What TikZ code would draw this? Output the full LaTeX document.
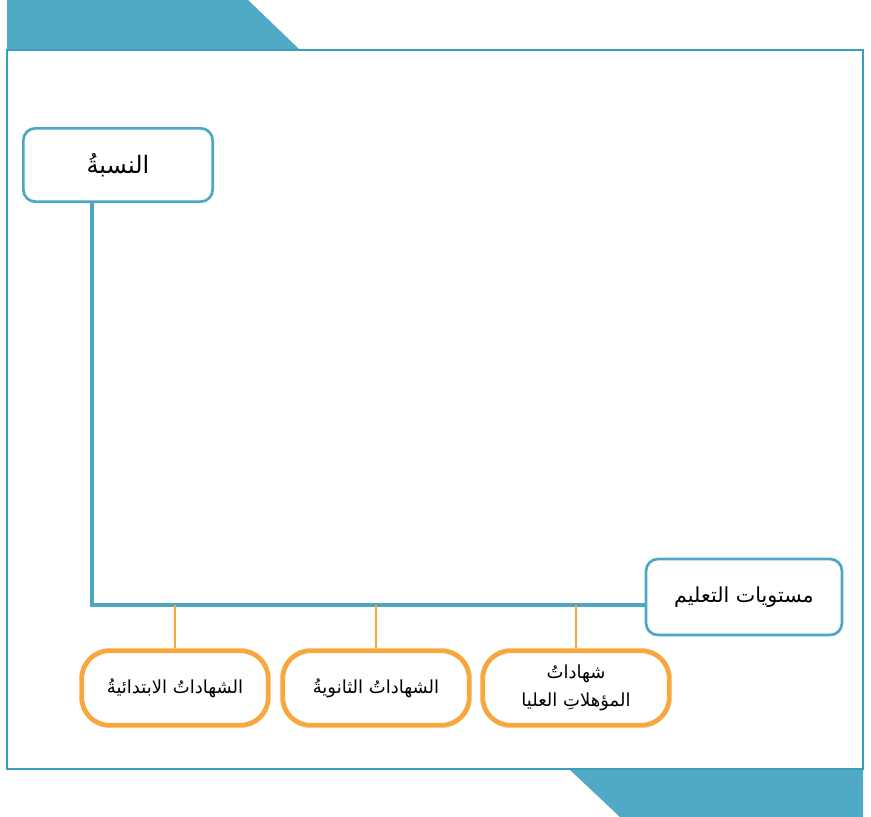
\documentclass[tikz,border=0pt]{standalone}
\usepackage{fontspec}
\newfontfamily\arabicfont[Script=Arabic]{DejaVu Sans}
\TeXXeTstate=1
\definecolor{tabblue}{HTML}{50A9C5}
\definecolor{lineblue}{HTML}{4DA7C4}
\definecolor{framec}{HTML}{3A9EBD}
\definecolor{orangec}{HTML}{F7A73C}
\begin{document}
\begin{tikzpicture}[x=0.75pt,y=-0.75pt,
  bluebox/.style={draw=lineblue, line width=2pt, rounded corners=9pt, fill=white, font=\arabicfont, text=black},
  orangebox/.style={draw=orangec, line width=3.6pt, rounded corners=21pt, fill=white, font=\arabicfont\fontsize{13.5pt}{21pt}\selectfont, text=black, minimum width=140pt, minimum height=56pt, align=center, inner sep=2pt},
  thickline/.style={draw=lineblue, line width=3.6pt},
  thinline/.style={draw=orangec, line width=1.5pt}]
\useasboundingbox (0,0) rectangle (871,817);
% tabs
\fill[tabblue] (7,0) -- (248,0) -- (300,50) -- (7,50) -- cycle;
\fill[tabblue] (569,769) -- (863,769) -- (863,817) -- (620,817) -- cycle;
% frame
\draw[framec, line width=0.9pt] (7,50) rectangle (863,769);
% nodes
\node[bluebox, minimum width=142pt, minimum height=55pt, font=\arabicfont\fontsize{18pt}{22pt}\selectfont] (nisba) at (118,165) {\beginR النسبةُ\endR};
\node[bluebox, minimum width=147pt, minimum height=57pt, font=\arabicfont\fontsize{15.5pt}{19pt}\selectfont] (levels) at (744,597) {\beginR مستويات التعليم\endR};
\node[orangebox] (prim) at (175,688) {\beginR الشهاداتُ الابتدائيةُ\endR};
\node[orangebox] (sec) at (376,688) {\beginR الشهاداتُ الثانويةُ\endR};
\node[orangebox] (high) at (576,688) {\beginR شهاداتُ\endR\\\beginR المؤهلاتِ العليا\endR};
% connectors
\coordinate (corner) at (92,605);
\draw[thickline] (nisba.south -| corner) -- (corner) -- (levels.west |- corner);
\draw[thinline] (prim.north) -- (prim.north |- corner);
\draw[thinline] (sec.north) -- (sec.north |- corner);
\draw[thinline] (high.north) -- (high.north |- corner);
\end{tikzpicture}
\end{document}
